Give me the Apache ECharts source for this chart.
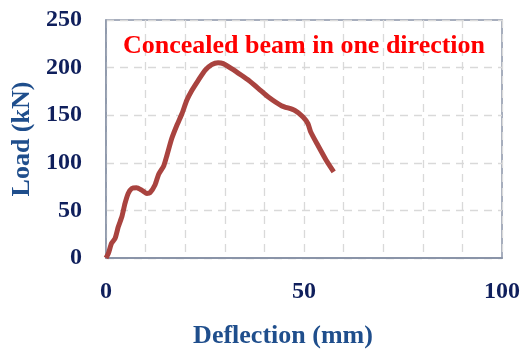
<!DOCTYPE html>
<html><head><meta charset="utf-8">
<script src="https://cdn.jsdelivr.net/npm/echarts@6/dist/echarts.min.js"></script>
<style>html,body{margin:0;padding:0;background:#fff}#c{width:527px;height:349px}</style>
</head><body><div id="c"></div>
<script>
const deflection = [0, 0.6, 1.4, 2.3, 3.1, 4.0, 4.8, 5.6, 6.5, 7.7, 9.0, 10.3, 11.1, 12.4, 13.3, 14.6, 15.4, 16.6, 17.9, 19.2, 20.4, 21.7, 23.3, 25.0, 26.7, 28.3, 29.6, 31.7, 34.2, 36.0, 38.5, 41.0, 44.3, 47.7, 49.75, 51.0, 51.7, 53.5, 55.6, 57.5];
const load = [0, 4.9, 15.4, 20.6, 32.8, 43.3, 57.3, 67.8, 73, 73.7, 71.3, 67.8, 68.5, 77, 88, 97, 108, 125.5, 139.5, 151.8, 165.7, 176.2, 186.7, 197.2, 203.2, 205.2, 204.2, 199, 192, 186.7, 178, 169, 160, 155, 148, 141, 132.4, 118.4, 102.7, 90.5];
const xTickLabels = [0, 50, 100];
const seriesName = 'Concealed beam in one direction';

const chart = echarts.init(document.getElementById('c'), null, {renderer: 'canvas'});
const font = '"Liberation Serif", "Times New Roman", serif';
chart.setOption({
  animation: false,
  title: {
    text: seriesName, left: 118, top: 28,
    textStyle: {color: '#ff0000', fontFamily: font, fontWeight: 'bold', fontSize: 26}
  },
  grid: {left: 106, right: 25, top: 20, bottom: 91, show: true, borderColor: '#8a94a8', borderWidth: 1.5,
    containLabel: false, outerBoundsMode: 'none'},
  xAxis: {
    type: 'value', min: 0, max: 100, interval: 10,
    name: 'Deflection (mm)', nameLocation: 'middle', nameGap: 65,
    nameTextStyle: {color: '#1f4e8c', fontFamily: font, fontWeight: 'bold', fontSize: 26, padding: [0, 42, 0, 0]},
    axisLine: {show: true, lineStyle: {color: '#8a94a8', width: 2}},
    axisTick: {show: false},
    axisLabel: {margin: 22, color: '#0f1f5c', fontFamily: font, fontWeight: 'bold', fontSize: 24,
      formatter: v => xTickLabels.includes(v) ? String(v) : ''},
    splitLine: {show: true, lineStyle: {color: '#d9d9d9', type: [8, 6], width: 1.3}}
  },
  yAxis: {
    type: 'value', min: 0, max: 250, interval: 50,
    name: 'Load (kN)', nameLocation: 'middle', nameGap: 71,
    nameTextStyle: {color: '#1f4e8c', fontFamily: font, fontWeight: 'bold', fontSize: 26},
    axisLine: {show: true, lineStyle: {color: '#8a94a8', width: 1.5}},
    axisTick: {show: false},
    axisLabel: {margin: 24, color: '#0f1f5c', fontFamily: font, fontWeight: 'bold', fontSize: 24},
    splitLine: {show: true, lineStyle: {color: '#d9d9d9', type: [8, 6], width: 1.3}}
  },
  series: [{
    type: 'line', name: seriesName,
    data: deflection.map((d, i) => [d, load[i]]),
    showSymbol: false, smooth: 0.2,
    lineStyle: {color: '#a9433f', width: 5}
  }]
});
</script></body></html>
